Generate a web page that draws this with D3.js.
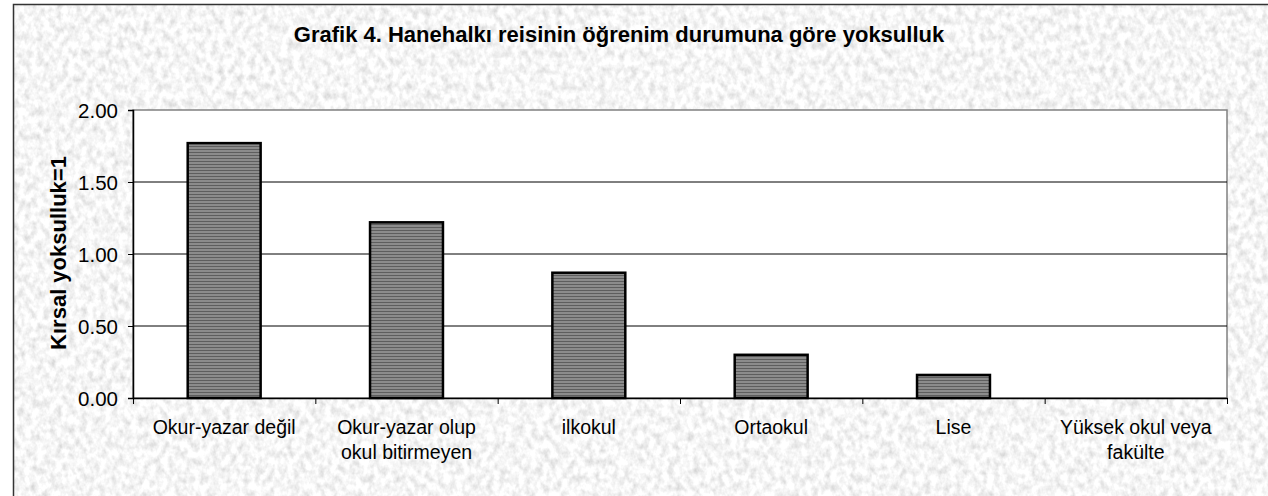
<!DOCTYPE html>
<html>
<head>
<meta charset="utf-8">
<script src="https://cdn.jsdelivr.net/npm/d3@7"></script>
<style>
  body { margin: 0; background: #fff; overflow: hidden; }
  svg { display: block; }
  svg text { font-family: "Liberation Sans", Arial, sans-serif; fill: #000; }
</style>
</head>
<body>
<div class="chart"></div>
<script>
var svgWidth = 1268;
var svgHeight = 496;

// data
var categories = [
  ["Okur-yazar değil"],
  ["Okur-yazar olup", "okul bitirmeyen"],
  ["ilkokul"],
  ["Ortaokul"],
  ["Lise"],
  ["Yüksek okul veya", "fakülte"]
];
var values = [1.77, 1.22, 0.87, 0.30, 0.16, 0];
var yTicks = [0, 0.5, 1, 1.5, 2];
var title = "Grafik 4. Hanehalkı reisinin öğrenim durumuna göre yoksulluk";
var yTitle = "Kırsal yoksulluk=1";

var margin = { top: 110, right: 41, bottom: 98, left: 133 };
var width = svgWidth - margin.left - margin.right;
var height = svgHeight - margin.top - margin.bottom;

var svg = d3.select(".chart")
  .append("svg")
  .attr("width", svgWidth)
  .attr("height", svgHeight);

var defs = svg.append("defs");

// grainy grey background like the original chart area
var grain = defs.append("filter")
  .attr("id", "grain")
  .attr("x", 0).attr("y", 0).attr("width", 1).attr("height", 1);
grain.append("feTurbulence")
  .attr("type", "fractalNoise")
  .attr("baseFrequency", "0.16 0.12")
  .attr("numOctaves", 3)
  .attr("seed", 7)
  .attr("result", "noise");
grain.append("feColorMatrix")
  .attr("in", "noise")
  .attr("type", "matrix")
  .attr("values", "0.6 0 0 0 0.62  0.6 0 0 0 0.62  0.6 0 0 0 0.62  0 0 0 0 1");

// striped fill for the bars
var stripes = defs.append("pattern")
  .attr("id", "stripes")
  .attr("patternUnits", "userSpaceOnUse")
  .attr("width", 4).attr("height", 3);
stripes.append("rect").attr("width", 4).attr("height", 3).attr("fill", "#8c8c8c");
stripes.append("rect").attr("width", 4).attr("height", 1).attr("fill", "#5e5e5e");

svg.append("rect")
  .attr("x", 13).attr("y", 4)
  .attr("width", svgWidth).attr("height", svgHeight)
  .attr("filter", "url(#grain)");
svg.append("rect")
  .attr("x", 13.5).attr("y", 4.5)
  .attr("width", svgWidth).attr("height", svgHeight)
  .attr("fill", "none")
  .attr("stroke", "#333")
  .attr("stroke-width", 1.5);

svg.append("text")
  .attr("x", 619).attr("y", 42)
  .attr("text-anchor", "middle")
  .attr("font-size", "22px")
  .attr("font-weight", "bold")
  .text(title);

var chartGroup = svg.append("g")
  .attr("transform", `translate(${margin.left}, ${margin.top})`);

var xScale = d3.scaleBand()
  .domain(d3.range(categories.length))
  .range([0, width])
  .paddingInner(0.6)
  .paddingOuter(0.3);

var yScale = d3.scaleLinear()
  .domain([0, 2])
  .range([height, 0]);

// plot area
chartGroup.append("rect")
  .attr("width", width).attr("height", height)
  .attr("fill", "#fff")
  .attr("stroke", "#808080")
  .attr("stroke-width", 1.5);

// gridlines
chartGroup.selectAll(".grid")
  .data(yTicks.filter(function(d) { return d > 0 && d < 2; }))
  .enter()
  .append("line")
  .attr("x1", 0).attr("x2", width)
  .attr("y1", function(d) { return yScale(d); })
  .attr("y2", function(d) { return yScale(d); })
  .attr("stroke", "#000")
  .attr("stroke-width", 1);

// bars
chartGroup.selectAll(".bar")
  .data(values)
  .enter()
  .filter(function(d) { return d > 0; })
  .append("rect")
  .attr("x", function(d) { return xScale(values.indexOf(d)); })
  .attr("y", function(d) { return yScale(d); })
  .attr("width", xScale.bandwidth())
  .attr("height", function(d) { return height - yScale(d); })
  .attr("fill", "url(#stripes)")
  .attr("stroke", "#000")
  .attr("stroke-width", 2.5);

// y axis
var leftAxis = d3.axisLeft(yScale)
  .tickValues(yTicks)
  .tickFormat(d3.format(".2f"))
  .tickSize(5)
  .tickPadding(10);
var yAxis = chartGroup.append("g").call(leftAxis);
yAxis.select(".domain").attr("stroke", "#000").attr("stroke-width", 1.5);
yAxis.selectAll("text").attr("font-size", "20.5px").attr("font-family", null).attr("dy", "0.35em");

// x axis: ticks at category boundaries
var xEdge = d3.scaleLinear().domain([0, categories.length]).range([0, width]);
var bottomAxis = d3.axisBottom(xEdge)
  .tickValues(d3.range(0, categories.length + 1))
  .tickFormat("")
  .tickSize(6)
  .tickSizeOuter(0);
var xAxis = chartGroup.append("g")
  .attr("transform", `translate(0, ${height})`)
  .call(bottomAxis);
xAxis.select(".domain").attr("stroke", "#000").attr("stroke-width", 1.5);

// category labels
var labels = chartGroup.selectAll(".xlabel")
  .data(categories)
  .enter()
  .append("text")
  .attr("text-anchor", "middle")
  .attr("font-size", "19.5px")
  .attr("transform", function(d, i) {
    return `translate(${xScale(i) + xScale.bandwidth() / 2}, ${height + 36})`;
  });
labels.selectAll("tspan")
  .data(function(d) { return d; })
  .enter()
  .append("tspan")
  .attr("x", 0)
  .attr("dy", function(d, i) { return i === 0 ? 0 : 25; })
  .text(function(d) { return d; });

// y axis title
chartGroup.append("text")
  .attr("transform", "rotate(-90)")
  .attr("x", 0 - (height / 2) + 1)
  .attr("y", 0 - margin.left + 66)
  .attr("text-anchor", "middle")
  .attr("font-size", "22px")
  .attr("font-weight", "bold")
  .text(yTitle);
</script>
</body>
</html>
